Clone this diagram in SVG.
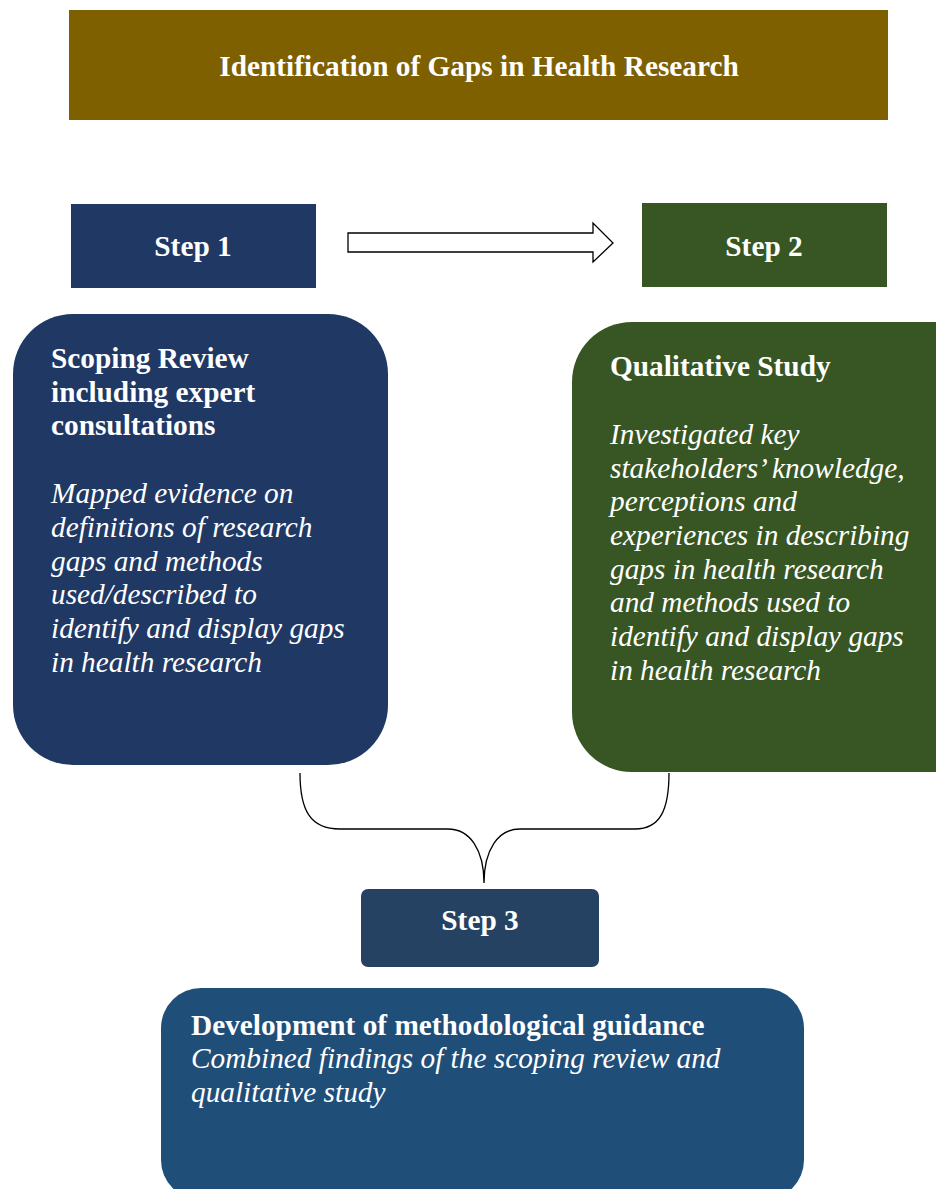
<svg xmlns="http://www.w3.org/2000/svg" width="936" height="1189" viewBox="0 0 936 1189">
<style>
text{font-family:"Liberation Serif","Times New Roman",serif;font-size:29.3px;fill:#ffffff}
.b{font-weight:bold}
.i{font-style:italic}
.c{text-anchor:middle}
.conn{fill:none;stroke:#000000;stroke-width:1.3}
</style>
<rect x="0" y="0" width="936" height="1189" fill="#ffffff"/>
<g id="title">
<rect x="69" y="10" width="819" height="110" fill="#7F6000"/>
<text class="b c" x="479" y="76">Identification of Gaps in Health Research</text>
</g>
<g id="step1">
<rect x="71" y="204" width="245" height="84" fill="#1F3864"/>
<text class="b c" x="193" y="256">Step 1</text>
</g>
<g id="step2">
<rect x="642" y="203" width="245" height="84" fill="#375623"/>
<text class="b c" x="764" y="256">Step 2</text>
</g>
<g id="scoping">
<rect x="13" y="314" width="375" height="451" rx="60" ry="60" fill="#203864"/>
<text class="b" x="51" y="368">Scoping Review</text>
<text class="b" x="51" y="402">including expert</text>
<text class="b" x="51" y="435">consultations</text>
<text class="i" x="51" y="503">Mapped evidence on</text>
<text class="i" x="51" y="537">definitions of research</text>
<text class="i" x="51" y="571">gaps and methods</text>
<text class="i" x="51" y="604">used/described to</text>
<text class="i" x="51" y="638">identify and display gaps</text>
<text class="i" x="51" y="672">in health research</text>
</g>
<g id="qualitative">
<rect x="572" y="322" width="424" height="450" rx="60" ry="60" fill="#375623"/>
<text class="b" x="610" y="376">Qualitative Study</text>
<text class="i" x="610" y="444">Investigated key</text>
<text class="i" x="610" y="478">stakeholders’ knowledge,</text>
<text class="i" x="610" y="511">perceptions and</text>
<text class="i" x="610" y="545">experiences in describing</text>
<text class="i" x="610" y="579">gaps in health research</text>
<text class="i" x="610" y="612">and methods used to</text>
<text class="i" x="610" y="646">identify and display gaps</text>
<text class="i" x="610" y="680">in health research</text>
</g>
<g id="step3">
<rect x="361" y="889" width="238" height="78" rx="7" ry="7" fill="#264263"/>
<text class="b c" x="480" y="930">Step 3</text>
</g>
<g id="guidance">
<rect x="161" y="988" width="643" height="212" rx="40" ry="40" fill="#1F4E79"/>
<text class="b" x="191" y="1035">Development of methodological guidance</text>
<text class="i" x="191" y="1068">Combined findings of the scoping review and</text>
<text class="i" x="191" y="1102">qualitative study</text>
</g>
<g id="connectors">
<path class="conn" d="M348,233 L593,233 L593,223 L613,243 L593,262 L593,252 L348,252 Z" style="fill:#ffffff"/>
<path class="conn" d="M300,773 C300,810 310,829 340,829 L448,829 C470,829 484,850 484,883 C484,850 498,829 520,829 L635,829 C660,829 669,810 669,773"/>
</g>
</svg>
